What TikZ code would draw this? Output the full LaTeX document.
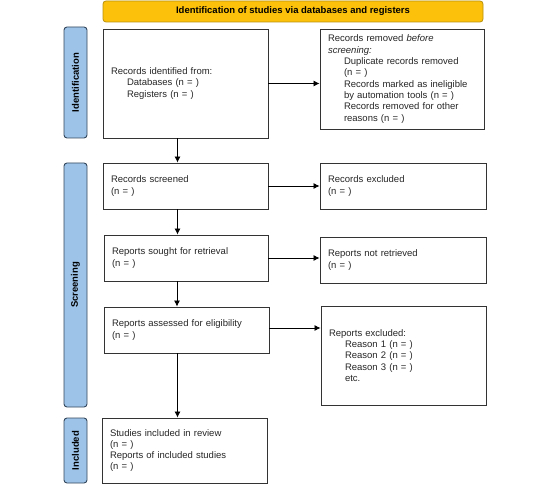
\documentclass[tikz,border=0pt]{standalone}
\usepackage{fontspec}
\setmainfont{Liberation Sans}
\usetikzlibrary{arrows.meta,positioning}
\usepackage{xcolor}
\definecolor{bannergold}{HTML}{FBC10B}
\definecolor{bannerline}{HTML}{B8900A}
\definecolor{phaseblue}{HTML}{9EC3E8}
\definecolor{phaseline}{HTML}{33475C}

\tikzset{
  box/.style={draw=black!80,line width=0.9pt,fill=white,align=left,inner xsep=8pt,inner ysep=0pt,text width=#1,text=black!85,font=\fontsize{9.5}{11.3}\selectfont},
  phase/.style={draw=phaseline,line width=0.9pt,fill=phaseblue,rounded corners=3pt,rotate=90,minimum height=23pt,inner sep=0pt,font=\fontsize{9.5}{11}\selectfont\bfseries},
  flow/.style={-{Latex[length=6pt,width=6pt]},line width=0.8pt}
}

\begin{document}
\begin{tikzpicture}[x=1pt,y=-1pt]
\useasboundingbox (0,0) rectangle (553,486);

\node [draw=bannerline,line width=0.8pt,fill=bannergold,rounded corners=3pt,minimum width=380pt,minimum height=21pt,font=\fontsize{9.5}{11}\selectfont\bfseries] (banner) at (293,11.5) {Identification of studies via databases and registers};

% phases
\node [phase,minimum width=111pt] (pident) at (75.5,82.5) {Identification};
\node [phase,minimum width=244pt] (pscreen) at (75.5,285) {Screening};
\node [phase,minimum width=65pt] (pincl) at (75.5,450.5) {Included};

% left column
\node [box=149pt,minimum height=109pt] (ident) at (185.5,83.5) {Records identified from:\\\hspace*{16pt}Databases (n = )\\\hspace*{16pt}Registers (n = )};
\node [box=149pt,minimum height=46pt] (screened) at (185.5,186) {Records screened\\(n = )};
\node [box=148pt,minimum height=46pt] (sought) at (186,258) {Reports sought for retrieval\\(n = )};
\node [box=149pt,minimum height=46pt] (assessed) at (186.5,330) {Reports assessed for eligibility\\(n = )};
\node [box=149pt,minimum height=65pt] (included) at (184.5,450.5) {Studies included in review\\(n = )\\Reports of included studies\\(n = )};

% right column
\node [box=148pt,minimum height=100pt] (removed) at (402,79) {Records removed \textit{before}\\\textit{screening:}\\\hspace*{16pt}Duplicate records removed\\\hspace*{16pt}(n = )\\\hspace*{16pt}Records marked as ineligible\\\hspace*{16pt}by automation tools (n = )\\\hspace*{16pt}Records removed for other\\\hspace*{16pt}reasons (n = )};
\node [box=150pt,minimum height=46pt] (excluded) at (403,186) {Records excluded\\(n = )};
\node [box=150pt,minimum height=46pt] (notretr) at (403,260) {Reports not retrieved\\(n = )};
\node [box=149pt,minimum height=99pt] (repexcl) at (403.5,355.5) {Reports excluded:\\\hspace*{16pt}Reason 1 (n = )\\\hspace*{16pt}Reason 2 (n = )\\\hspace*{16pt}Reason 3 (n = )\\\hspace*{16pt}etc.};

% arrows
\draw [flow] (ident.east) -- (ident.east -| removed.west);
\draw [flow] (screened.east) -- (screened.east -| excluded.west);
\draw [flow] (sought.east) -- (sought.east -| notretr.west);
\draw [flow] ([yshift=2pt]assessed.east) -- ([yshift=2pt]assessed.east -| repexcl.west);

\draw [flow] ([xshift=-8pt]ident.south) -- ([xshift=-8pt]ident.south |- screened.north);
\draw [flow] ([xshift=-8pt]screened.south) -- ([xshift=-8pt]screened.south |- sought.north);
\draw [flow] ([xshift=-9pt]sought.south) -- ([xshift=-9pt]sought.south |- assessed.north);
\draw [flow] ([xshift=-9pt]assessed.south) -- ([xshift=-9pt]assessed.south |- included.north);
\end{tikzpicture}
\end{document}
